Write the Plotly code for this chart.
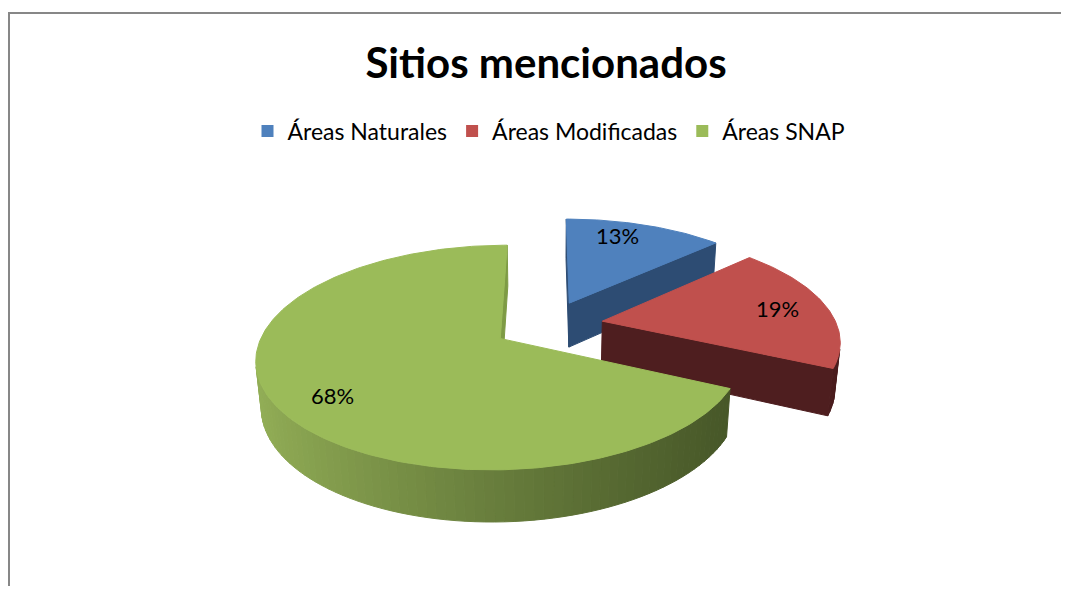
import numpy as np
import plotly.graph_objects as go

# ---------------- data ----------------
categories = ["Áreas Naturales", "Áreas Modificadas", "Áreas SNAP"]
values = [13, 19, 68]
label_texts = ["13%", "19%", "68%"]
title_text = "Sitios mencionados"

# ---------------- style ----------------
TOP_COLORS = ["#4F81BD", "#C0504D", "#9BBB59"]
WALL_LIGHT = [(45, 76, 115), (78, 30, 31), (146, 174, 86)]
WALL_DARK = [(40, 68, 104), (74, 28, 29), (56, 70, 31)]
CUT_COLORS = ["#2D4C73", "#4E1E1F", "#7E9B45"]
LABEL_R = [0.82, 0.78, 0.79]
LABEL_FRAC = [0.385, 0.5, 0.48]
FONT = "Lato, Open Sans, sans-serif"

# page geometry (the page body has an 8px margin)
WIN_W, WIN_H = 1069, 594
OFF = 8
W, H_PX = WIN_W - 2 * OFF, WIN_H - 2 * OFF

# 3-D projection settings (window pixel space)
CX, CY = 548, 325
F = 1266.0
DIST = 5.40
ALPHA = np.radians(26.5)
DEPTH = 0.219
EXPLODE = 0.236
SA, CA = np.sin(ALPHA), np.cos(ALPHA)
CAM = np.array([0.0, -DIST * CA, DIST * SA])


def project(X, Y, Z):
    zc = DIST + Y * CA - Z * SA
    yc = Y * SA + Z * CA
    return CX + F * X / zc, CY - F * yc / zc


def hexcol(c):
    return "#%02X%02X%02X" % tuple(int(round(v)) for v in c)


fig = go.Figure()

total = float(sum(values))
starts = np.cumsum([0] + values[:-1]) / total * 360.0
ends = np.cumsum(values) / total * 360.0

slices = []
for i in range(len(values)):
    t0, t1 = starts[i], ends[i]
    mid = np.radians((t0 + t1) / 2)
    ox, oy = EXPLODE * np.sin(mid), EXPLODE * np.cos(mid)
    ky = oy + 0.5 * np.cos(mid)
    key = DIST + ky * CA
    slices.append((key, i, t0, t1, ox, oy))

# horizontal screen extent of the pie for wall shading
pie_xs = []
for _, i, t0, t1, ox, oy in slices:
    th = np.radians(np.linspace(t0, t1, 60))
    xs, _ = project(ox + np.sin(th), oy + np.cos(th), 0)
    pie_xs.extend(xs)
XMIN, XMAX = min(pie_xs), max(pie_xs)


def add_poly(xs, ys, color):
    xs = list(xs) + [xs[0]]
    ys = list(ys) + [ys[0]]
    fig.add_trace(go.Scatter(x=xs, y=ys, mode="lines", fill="toself",
                             fillcolor=color, line=dict(color=color, width=1),
                             hoverinfo="skip", showlegend=False))


label_annots = []
for key, i, t0, t1, ox, oy in sorted(slices, key=lambda s: -s[0]):
    # ---- outer curved wall (visible part) ----
    n = max(4, int((t1 - t0) / 2))
    th = np.radians(np.linspace(t0, t1, n + 1))
    for a, b in zip(th[:-1], th[1:]):
        m = (a + b) / 2
        P = np.array([ox + np.sin(m), oy + np.cos(m), 0.0])
        nv = np.array([np.sin(m), np.cos(m), 0.0])
        if np.dot(nv, CAM - P) <= 0:
            continue
        xa, ya = project(ox + np.sin(a), oy + np.cos(a), 0)
        xb, yb = project(ox + np.sin(b), oy + np.cos(b), 0)
        xb2, yb2 = project(ox + np.sin(b), oy + np.cos(b), -DEPTH)
        xa2, ya2 = project(ox + np.sin(a), oy + np.cos(a), -DEPTH)
        t = np.clip(((xa + xb) / 2 - XMIN) / (XMAX - XMIN), 0, 1) ** 0.85
        c = [WALL_LIGHT[i][k] + (WALL_DARK[i][k] - WALL_LIGHT[i][k]) * t for k in range(3)]
        add_poly([xa, xb, xb2, xa2], [ya, yb, yb2, ya2], hexcol(c))

    # ---- radial cut faces ----
    C = np.array([ox, oy, 0.0])
    for ang, sign in ((t0, -1), (t1, 1)):
        r = np.radians(ang)
        nv = sign * np.array([np.cos(r), -np.sin(r), 0.0])
        if np.dot(nv, CAM - C) <= 0:
            continue
        p1 = project(ox, oy, 0)
        p2 = project(ox + np.sin(r), oy + np.cos(r), 0)
        p3 = project(ox + np.sin(r), oy + np.cos(r), -DEPTH)
        p4 = project(ox, oy, -DEPTH)
        add_poly([p1[0], p2[0], p3[0], p4[0]], [p1[1], p2[1], p3[1], p4[1]], CUT_COLORS[i])

    # ---- top face ----
    th = np.radians(np.linspace(t0, t1, int(t1 - t0) + 2))
    xs, ys = project(ox + np.sin(th), oy + np.cos(th), 0)
    x0, y0 = project(ox, oy, 0)
    add_poly([x0] + list(xs), [y0] + list(ys), TOP_COLORS[i])

    # ---- label ----
    la = np.radians(t0 + LABEL_FRAC[i] * (t1 - t0))
    lx, ly = project(ox + LABEL_R[i] * np.sin(la), oy + LABEL_R[i] * np.cos(la), 0)
    label_annots.append(dict(x=lx, y=ly, xref="x", yref="y", text=label_texts[i],
                             showarrow=False,
                             font=dict(size=22, color="black", family=FONT)))

# legend entries
for name, col in zip(categories, TOP_COLORS):
    fig.add_trace(go.Scatter(x=[None], y=[None], mode="markers", name=name,
                             marker=dict(symbol="square", size=12, color=col)))


def py(win_y):
    return 1 - (win_y - OFF) / H_PX


fig.update_layout(
    width=W, height=H_PX,
    margin=dict(l=0, r=0, t=0, b=0),
    paper_bgcolor="white", plot_bgcolor="white",
    xaxis=dict(range=[OFF, OFF + W], visible=False, fixedrange=True),
    yaxis=dict(range=[OFF + H_PX, OFF], visible=False, fixedrange=True),
    title=dict(text="<b>" + title_text + "</b>", x=(546 - OFF) / W, xanchor="center",
               y=py(63), yanchor="middle",
               font=dict(size=42, color="black", family=FONT)),
    legend=dict(orientation="h", x=(549 - OFF) / W, xanchor="center", y=py(131),
                yanchor="middle", font=dict(size=23, color="black", family=FONT),
                itemwidth=30, bgcolor="rgba(0,0,0,0)"),
    annotations=label_annots,
    shapes=[dict(type="rect", xref="paper", yref="paper",
                 x0=(9 - OFF) / W, x1=1.3, y0=-0.3, y1=py(13),
                 line=dict(color="#878787", width=2), layer="above")],
)

fig.write_html("out.html")
